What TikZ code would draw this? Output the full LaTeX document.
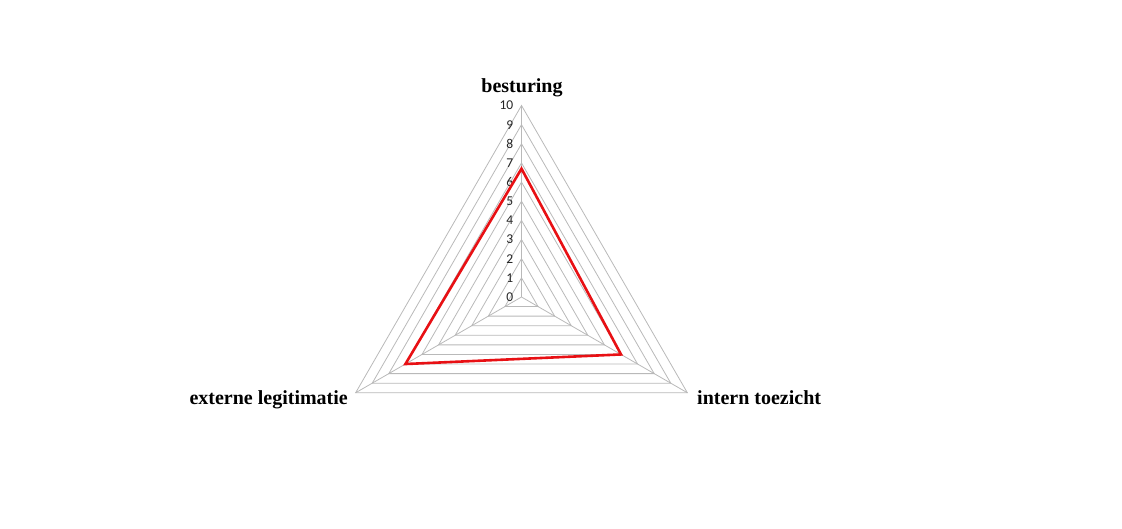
\documentclass[tikz,border=0pt]{standalone}
\usepackage{fontspec}
\setmainfont{Liberation Serif}
\newfontfamily\tickfont{Carlito}
\definecolor{seriesred}{RGB}{232,16,20}
\definecolor{gridgray}{RGB}{185,185,185}
\begin{document}
\begin{tikzpicture}[x=1pt,y=1pt,
  gridline/.style={draw=gridgray, line width=0.8pt},
  series/.style={draw=seriesred, line width=2.6pt, line join=miter},
  axislabel/.style={font=\bfseries\fontsize{20}{24}\selectfont, inner sep=0pt},
  ticklabel/.style={font=\tickfont\fontsize{13.5}{15}\selectfont, text=black!85, anchor=east, inner sep=0pt}]
\useasboundingbox (0,0) rectangle (1122,528);
\begin{scope}[shift={(521.5,231)}]
  % one unit of the value scale
  \def\unit{19.15}
  \coordinate (O) at (0,0);
  % concentric triangles, levels 1 to 10
  \foreach \k in {1,...,10}{
    \draw[gridline] (90:\k*\unit) -- (210:\k*\unit) -- (330:\k*\unit) -- cycle;
  }
  % axis ends
  \coordinate (besturingEnd) at (90:10*\unit);
  \coordinate (externEnd) at (210:10*\unit);
  \coordinate (toezichtEnd) at (330:10*\unit);
  \draw[gridline] (O) -- (besturingEnd);
  \draw[gridline] (O) -- (externEnd);
  \draw[gridline] (O) -- (toezichtEnd);
  % scale labels along the vertical axis
  \foreach \k in {0,...,10}{
    \node[ticklabel] (tick\k) at (-8,\k*\unit) {\k};
  }
  % scores
  \coordinate (sBesturing) at (90:6.7*\unit);
  \coordinate (sExtern) at (210:7*\unit);
  \coordinate (sToezicht) at (330:6*\unit);
  \draw[series] (sBesturing) -- (sExtern) -- (sToezicht) -- cycle;
  % axis titles
  \node[axislabel, anchor=base] (lblBesturing) at (0.5,204) {besturing};
  \node[axislabel, anchor=base east] (lblExtern) at (-173.5,-107) {externe legitimatie};
  \node[axislabel, anchor=base west] (lblToezicht) at (175.5,-107) {intern toezicht};
\end{scope}
\end{tikzpicture}
\end{document}
